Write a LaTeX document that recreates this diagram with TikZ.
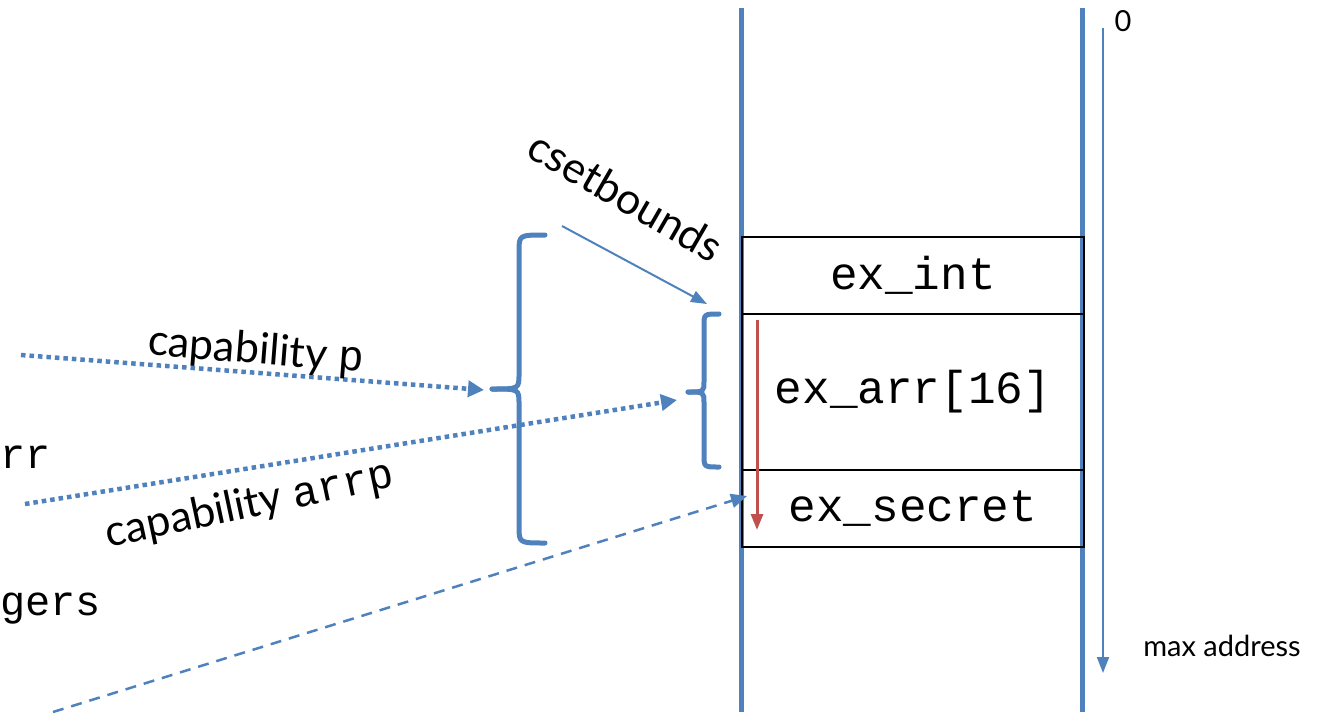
\documentclass[tikz,border=0pt]{standalone}
\usepackage{fontspec}
\setmainfont{Lato}
\setmonofont{Liberation Mono}
\usetikzlibrary{arrows.meta}
\definecolor{mblue}{HTML}{4F81BD}
\definecolor{mred}{HTML}{C0504D}
\newcommand{\lowr}[1]{\raisebox{-5pt}{#1}}
\begin{document}
\begin{tikzpicture}[x=1pt,y=-1pt,
  rail/.style={mblue,line width=5pt},
  cell/.style={draw=black,line width=2pt,minimum width=342pt,inner sep=0pt,font=\ttfamily\fontsize{46}{48}\selectfont},
  brk/.style={mblue,line width=5pt,line cap=round},
  dotarrow/.style={mblue,line width=4.5pt,dash pattern=on 4.5pt off 4pt,-{Triangle[length=16pt,width=16pt]}},
  dasharrow/.style={mblue,line width=2.5pt,dash pattern=on 11pt off 8pt,-{Triangle[length=16pt,width=14pt]}},
  thinarrow/.style={mblue,line width=2pt,-{Triangle[length=16pt,width=12pt]}},
  lbl/.style={font=\fontsize{43}{45}\selectfont,inner sep=0pt},
  small/.style={font=\fontsize{29}{31}\selectfont,inner sep=0pt},
  code/.style={font=\ttfamily\fontsize{42}{44}\selectfont,inner sep=0pt}]
\useasboundingbox (0,0) rectangle (1317,715);
% rails
\coordinate (l1) at (741,8); \coordinate (l2) at (741,712);
\coordinate (r1) at (1082,8); \coordinate (r2) at (1082,712);
\draw[rail] (l1) -- (l2);
\draw[rail] (r1) -- (r2);
% cells
\node[cell,anchor=north west,minimum height=77pt] (int) at (741,236) {\lowr{ex\_int}};
\node[cell,anchor=north west,minimum height=156pt] (arr) at (741,313) {\lowr{ex\_arr[16]}};
\node[cell,anchor=north west,minimum height=77pt] (sec) at (741,469) {\lowr{ex\_secret}};
% address arrow
\coordinate (a0) at (1103,28); \coordinate (a1) at (1103,673);
\draw[thinarrow] (a0) -- (a1);
\node[small] (zero) at (1123,21) {0};
\node[small] (maxa) at (1222,646) {max address};
% red arrow
\coordinate (ra0) at (757,320); \coordinate (ra1) at (757,530);
\draw[mred,line width=3pt,-{Triangle[length=16pt,width=12pt]}] (ra0) -- (ra1);
% large bracket
\coordinate (bigtip) at (492,389);
\draw[brk] (545,235) .. controls (519,235) .. (519,252) -- (519,374) .. controls (519,389) .. (bigtip);
\draw[brk] (bigtip) .. controls (519,389) .. (519,404) -- (519,526) .. controls (519,543) .. (545,543);
% small bracket
\coordinate (smtip) at (688,392);
\draw[brk] (719,314) .. controls (704,314) .. (704,326) -- (704,381) .. controls (704,392) .. (smtip);
\draw[brk] (smtip) .. controls (704,392) .. (704,403) -- (704,455) .. controls (704,467) .. (719,467);
% csetbounds
\coordinate (cs0) at (562,226); \coordinate (cs1) at (707,304);
\draw[mblue,line width=2pt,-{Triangle[length=16pt,width=12pt]}] (cs0) -- (cs1);
\node[lbl,rotate=-30] (csb) at (626,196) {csetbounds};
% capability p
\coordinate (p0) at (21,355); \coordinate (p1) at (484,390);
\draw[dotarrow] (p0) -- (p1);
\node[lbl,rotate=-4.5] (capp) at (256,352) {capability \texttt{p}};
% capability arrp
\coordinate (q0) at (25,504); \coordinate (q1) at (677,400);
\draw[dotarrow] (q0) -- (q1);
\node[lbl,rotate=12] (capq) at (250,506) {capability \texttt{arrp}};
% dashed
\coordinate (d0) at (53,712); \coordinate (d1) at (747,496);
\draw[dasharrow] (d0) -- (d1);
% cut-off texts
\node[code,anchor=west] (rr) at (0,457) {rr};
\node[code,anchor=west] (gers) at (0,609) {gers};
\end{tikzpicture}
\end{document}
